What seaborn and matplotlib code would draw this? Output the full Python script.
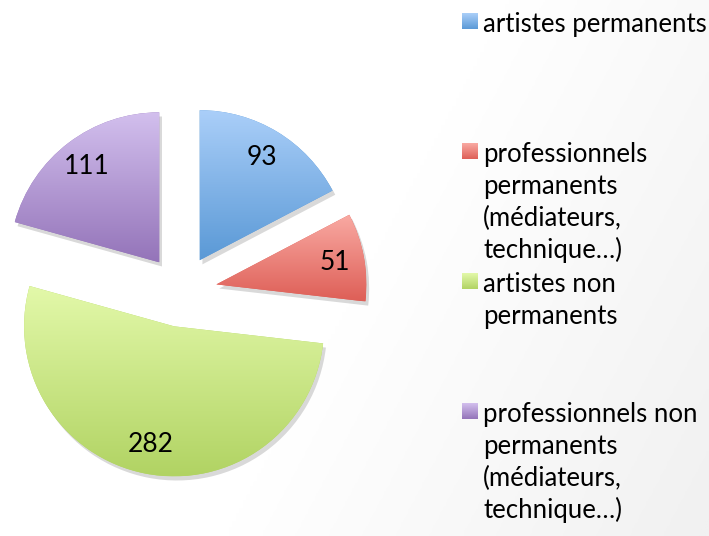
import numpy as np
import matplotlib.pyplot as plt
import matplotlib.patheffects as pe
from matplotlib.colors import LinearSegmentedColormap
import seaborn as sns

# data
categories = [
    "artistes permanents",
    "professionnels\npermanents\n(médiateurs,\ntechnique…)",
    "artistes non\npermanents",
    "professionnels non\npermanents\n(médiateurs,\ntechnique…)",
]
values = [93, 51, 282, 111]
top_colors = ["#abcff9", "#f9aaa3", "#e3f9aa", "#d3c0ee"]
bottom_colors = ["#5a99d6", "#de5f57", "#b1d363", "#9474b9"]

sns.set_theme(style="white")
plt.rcParams["font.family"] = ["Lato", "DejaVu Sans"]

W, H = 709, 536
fig = plt.figure(figsize=(W / 100, H / 100), dpi=100)

# faint grey wash towards the lower right, like the slide background
bg = fig.add_axes([0, 0, 1, 1], zorder=-10)
yy, xx = np.mgrid[0:1:200j, 0:1:200j]
wash = np.clip((xx - 0.6) * 1.5 + (yy - 0.3) * 0.6, 0, 1)
bg.imshow(wash, cmap=LinearSegmentedColormap.from_list("bg", ["#ffffff", "#f1f1f1"]),
          extent=[0, 1, 0, 1], aspect="auto", origin="upper", vmin=0, vmax=1)
bg.axis("off")

# pie axes: radius 150 px, centre at (181, 291) px from the top-left
R = 150.0
cx, cy = 181.0, 291.0
ax_w = 400.0
ax = fig.add_axes([0, 0, ax_w / W, 1])
total = sum(values)
explode = [36 / R] * len(values)

wedges, _, autotexts = ax.pie(
    values,
    startangle=90,
    counterclock=False,
    explode=explode,
    radius=1.0,
    autopct=lambda p: f"{round(p * total / 100)}",
    pctdistance=0.8,
    textprops=dict(fontsize=19, color="black"),
)

grad = np.linspace(0, 1, 256).reshape(-1, 1)
for w, c0, c1 in zip(wedges, top_colors, bottom_colors):
    w.set_facecolor(c1)
    w.set_edgecolor("none")
    w.set_path_effects([pe.SimplePatchShadow(offset=(2, -3), shadow_rgbFace="#000000", alpha=0.15),
                        pe.Normal()])
    bb = w.get_path().get_extents()
    cmap = LinearSegmentedColormap.from_list("g", [c0, c1])
    im = ax.imshow(grad, cmap=cmap, extent=[bb.x0, bb.x1, bb.y0, bb.y1],
                   origin="upper", aspect="auto", zorder=w.get_zorder() + 0.1)
    im.set_clip_path(w)
for t in autotexts:
    t.set_zorder(5)

ax.set_aspect("auto")
ax.set_xlim(-cx / R, (ax_w - cx) / R)
ax.set_ylim(-(H - cy) / R, cy / R)
ax.axis("off")

# legend, laid out like the original: one entry every 130 px, 32 px per line
box = 16
line_h = 32
for i, (lab, c0, c1) in enumerate(zip(categories, top_colors, bottom_colors)):
    top = 13 + 130 * i
    sq = fig.add_axes([462 / W, 1 - (top + box) / H, box / W, box / H])
    sq.imshow(grad, cmap=LinearSegmentedColormap.from_list("s", [c0, c1]),
              aspect="auto", extent=[0, 1, 0, 1])
    sq.axis("off")
    for k, line in enumerate(lab.split("\n")):
        base = top + box + 3 + k * line_h
        fig.text(483 / W, 1 - base / H, line, fontsize=18.5,
                 va="baseline", ha="left", color="black")

fig.savefig("out.png", dpi=100)
